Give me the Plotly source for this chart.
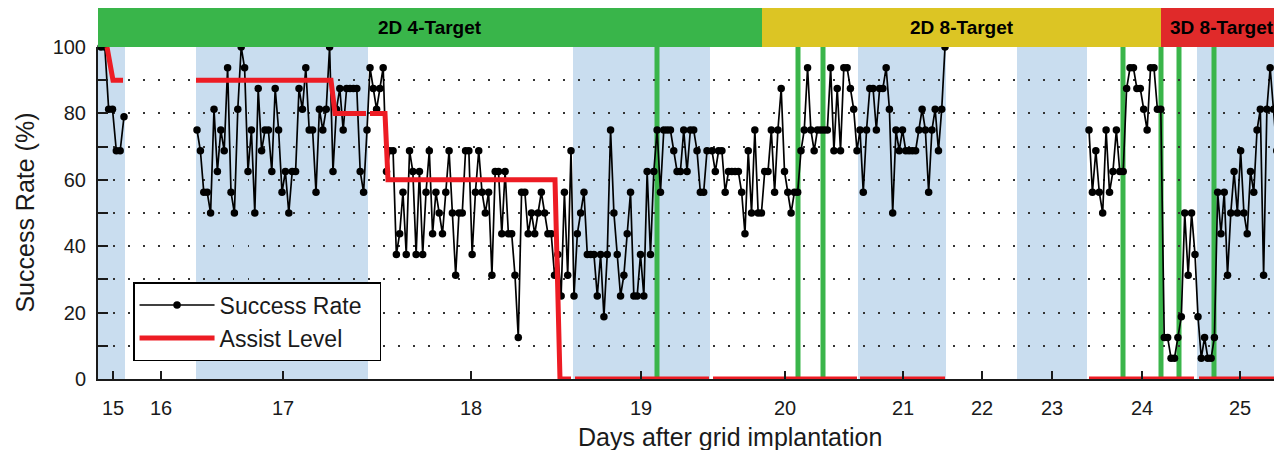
import plotly.graph_objects as go

# ---------------- data ----------------
# x axis = position along the experiment timeline (arbitrary units); days are labelled at DAY_POS
DAY_LABELS = ["15", "16", "17", "18", "19", "20", "21", "22", "23", "24", "25"]
DAY_POS = [15, 63, 185, 373, 543, 687, 805, 884, 954, 1044, 1142]
X_RANGE = [0, 1184]

# sessions: timeline start/end and block success rates (%)
SESSION_START = [3, 99, 272, 476, 614, 762, 991, 1100]
SESSION_END = [26, 269, 473, 609, 759, 847, 1097, 1182]
GAP_AFTER = [True, False, False, False, False, True, False, False]

RATE_D15 = [100, 100, 81.25, 81.25, 68.75, 68.75, 79]
RATE_D17 = [75, 68.75, 56.25, 56.25, 50, 81.25, 62.5, 75, 68.75, 93.75, 56.25, 50, 81.25, 100,
            93.75, 62.5, 75, 50, 87.5, 68.75, 75, 75, 62.5, 87.5, 75, 56.25, 62.5, 50, 62.5, 62.5,
            87.5, 81.25, 93.75, 75, 75, 56.25, 81.25, 75, 81.25, 100, 62.5, 81.25, 87.5, 75, 87.5,
            87.5, 87.5, 87.5, 62.5, 56.25, 75]
RATE_D18 = [93.75, 87.5, 81.25, 87.5, 93.75, 62.5, 68.75, 68.75, 37.5, 43.75, 56.25, 37.5, 68.75,
            62.5, 37.5, 62.5, 37.5, 56.25, 68.75, 43.75, 56.25, 50, 43.75, 56.25, 68.75, 50, 31.25,
            50, 50, 68.75, 68.75, 37.5, 56.25, 68.75, 56.25, 50, 56.25, 31.25, 62.5, 62.5, 43.75,
            62.5, 43.75, 43.75, 31.25, 12.5, 56.25, 56.25, 43.75, 50, 43.75, 50, 56.25, 50, 43.75,
            43.75, 31.25, 37.5, 25, 56.25, 31.25, 68.75]
RATE_D19 = [25, 43.75, 50, 56.25, 37.5, 37.5, 37.5, 25, 37.5, 18.75, 37.5, 75, 50, 37.5, 25, 31.25,
            43.75, 56.25, 25, 25, 37.5, 25, 62.5, 37.5, 62.5, 75, 56.25, 75, 75, 75, 68.75, 62.5,
            62.5, 75, 62.5, 75, 75, 68.75, 56.25, 56.25, 68.75]
RATE_D20 = [68.75, 62.5, 68.75, 68.75, 56.25, 62.5, 62.5, 62.5, 62.5, 56.25, 43.75, 68.75, 50, 75,
            50, 50, 62.5, 62.5, 75, 56.25, 75, 87.5, 62.5, 56.25, 50, 56.25, 56.25, 68.75, 75, 93.75,
            75, 68.75, 75, 75, 75, 75, 93.75, 68.75, 87.5, 68.75, 93.75, 93.75, 87.5, 81.25, 68.75]
RATE_D21 = [75, 56.25, 75, 87.5, 87.5, 75, 87.5, 87.5, 93.75, 81.25, 50, 75, 68.75, 75, 68.75,
            68.75, 68.75, 68.75, 75, 81.25, 75, 56.25, 75, 81.25, 68.75, 81.25, 100]
RATE_D24 = [75, 56.25, 68.75, 56.25, 50, 75, 56.25, 62.5, 75, 62.5, 62.5, 87.5, 93.75, 93.75, 87.5,
            87.5, 81.25, 75, 93.75, 93.75, 81.25, 81.25, 12.5, 12.5, 6.25, 6.25, 12.5, 18.75, 50,
            31.25, 50, 37.5]
RATE_D25 = [18.75, 6.25, 12.5, 6.25, 6.25, 12.5, 56.25, 43.75, 56.25, 31.25, 50, 62.5, 50, 68.75,
            50, 43.75, 62.5, 56.25, 75, 81.25, 31.25, 81.25, 93.75, 81.25, 68.75, 81.25]
SESSION_RATES = [RATE_D15, RATE_D17, RATE_D18, RATE_D19, RATE_D20, RATE_D21, RATE_D24, RATE_D25]

# assist level (%), None = break between sessions
ASSIST_X = [9, 15, 25, None, 98, 233, 237, 268, None, 272, 287, 290, 457, 462, 473, None,
            477, 611, None, 615, 759, None, 762, 847, None, 991, 1096, None, 1101, 1190]
ASSIST_Y = [100, 90, 90, None, 90, 90, 80, 80, None, 80, 80, 60, 60, 0, 0, None,
            0, 0, None, 0, 0, None, 0, 0, None, 0, 0, None, 0, 0]

# shaded periods and event markers
BAND_START = [0, 98, 475, 760, 919, 1099]
BAND_END = [27, 270, 612, 848, 989, 1190]
EVENT_POS = [559, 700, 725, 1025, 1063, 1081, 1116]

# task phases
PHASE_NAMES = ["2D 4-Target", "2D 8-Target", "3D 8-Target"]
PHASE_START = [0, 664, 1063]
PHASE_END = [664, 1063, 1184]
PHASE_COLORS = ["#39b54a", "#dcc524", "#e02a2a"]

# ---------------- build ----------------
sx, sy = [], []
for s, e, vals, gap in zip(SESSION_START, SESSION_END, SESSION_RATES, GAP_AFTER):
    n = len(vals)
    for i, v in enumerate(vals):
        sx.append(s + (e - s) * i / (n - 1))
        sy.append(v)
    if gap:
        sx.append(None)
        sy.append(None)

FONT = "Arial, Liberation Sans, Helvetica, sans-serif"

fig = go.Figure()
fig.add_trace(go.Scatter(
    x=sx, y=sy, mode="lines+markers", name="Success Rate&nbsp;&nbsp;",
    line=dict(color="black", width=1.7),
    marker=dict(color="black", size=7.5, symbol="circle"),
    cliponaxis=False, legendrank=1, connectgaps=False,
))
fig.add_trace(go.Scatter(
    x=ASSIST_X, y=ASSIST_Y, mode="lines", name="Assist Level",
    line=dict(color="#ed1c24", width=5),
    legendrank=2, connectgaps=False,
))

shapes = []
for a, b in zip(BAND_START, BAND_END):
    shapes.append(dict(type="rect", xref="x", yref="y", x0=a, x1=b, y0=0, y1=100,
                       fillcolor="#c9ddef", line=dict(width=0), layer="below"))
for p in EVENT_POS:
    shapes.append(dict(type="line", xref="x", yref="y", x0=p, x1=p, y0=0, y1=100,
                       line=dict(color="#3ab54a", width=5), layer="below"))
annotations = []
for name, a, b, c in zip(PHASE_NAMES, PHASE_START, PHASE_END, PHASE_COLORS):
    shapes.append(dict(type="rect", xref="x", yref="paper", x0=a, x1=b, y0=1.0, y1=1.1175,
                       fillcolor=c, line=dict(width=0), layer="above"))
    annotations.append(dict(x=(a + b) / 2, y=1.0588, xref="x", yref="paper", text="<b>" + name + "</b>",
                            showarrow=False, font=dict(family=FONT, size=19, color="black"),
                            xanchor="center", yanchor="middle"))

annotations.append(dict(x=632, y=-0.175, xref="x", yref="paper", text="Days after grid implantation",
                        showarrow=False, font=dict(family=FONT, size=25, color="#1a1a1a"),
                        xanchor="center", yanchor="middle"))
annotations.append(dict(x=-0.062, y=0.5, xref="paper", yref="paper", text="Success Rate (%)",
                        textangle=-90, showarrow=False, font=dict(family=FONT, size=25, color="#1a1a1a"),
                        xanchor="center", yanchor="middle"))

# the page body adds an 8px margin, so the figure is 8px smaller with shifted margins
fig.update_layout(
    width=1274, height=442,
    margin=dict(l=90, r=0, t=39, b=71, autoexpand=False),
    paper_bgcolor="white", plot_bgcolor="white",
    font=dict(family=FONT, color="#1a1a1a"),
    shapes=shapes, annotations=annotations,
    showlegend=True,
    legend=dict(x=0.0296, y=0.292, xanchor="left", yanchor="top",
                bgcolor="white", bordercolor="black", borderwidth=1.5,
                font=dict(family=FONT, size=23, color="#1a1a1a"),
                tracegroupgap=0, itemwidth=75),
)
fig.update_xaxes(
    range=X_RANGE, tickmode="array", tickvals=DAY_POS, ticktext=DAY_LABELS,
    ticks="inside", ticklen=8, tickwidth=1.5, tickcolor="#1a1a1a",
    showline=True, linecolor="#1a1a1a", linewidth=1.5,
    showgrid=False, zeroline=False, automargin=False,
    tickfont=dict(family=FONT, size=20, color="#1a1a1a"),
    ticklabelstandoff=10,
)
fig.update_yaxes(
    range=[0, 100], tickmode="linear", tick0=0, dtick=20,
    ticks="inside", ticklen=10, tickwidth=1.5, tickcolor="#1a1a1a",
    showline=True, linecolor="#1a1a1a", linewidth=2,
    showgrid=True, gridcolor="#333333", gridwidth=1.5, griddash="1.5px,13.5px",
    zeroline=False, automargin=False,
    tickfont=dict(family=FONT, size=20, color="#1a1a1a"),
    ticklabelstandoff=6,
    minor=dict(dtick=10, ticks="inside", ticklen=10, tickwidth=1.5, tickcolor="#1a1a1a",
               showgrid=True, gridcolor="#333333", gridwidth=1.5, griddash="1.5px,13.5px"),
)

fig.write_html("out.html")
